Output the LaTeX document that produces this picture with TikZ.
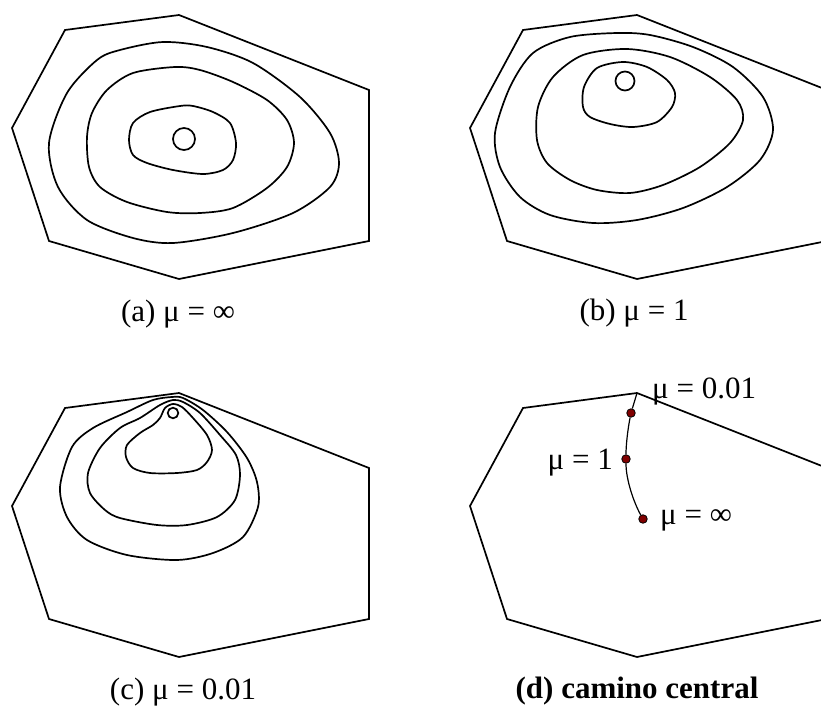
\documentclass[tikz,border=0pt]{standalone}
\usepackage{fontspec}
\setmainfont{Liberation Serif}
\usepackage{xcolor}
\definecolor{pathred}{RGB}{128,0,0}

\begin{document}
\begin{tikzpicture}[x=1pt, y=-1pt,
    edge/.style={line width=1.7pt, line join=miter},
    level/.style={line width=1.7pt},
    lbl/.style={font=\fontsize{31}{36}\selectfont, inner sep=0pt},
    dot/.style={circle, draw, fill=pathred, minimum size=8.5pt, inner sep=0pt, line width=0.8pt}]
    \useasboundingbox (0,0) rectangle (821,706);
    \clip (0,0) rectangle (821,706);

    % Feasible regions
    \foreach \dx/\dy in {0/0, 458/0, 0/378, 458/378}
        \draw[edge, shift={(\dx,\dy)}] (65,30) -- (179,15) -- (369,90) -- (369,241)
            -- (179,279) -- (49,241) -- (12,128) -- cycle;

    % (a) level curves
    \draw[level] plot[smooth cycle] coordinates {(163,42) (120,50) (97,60) (67,93) (49,143)
        (58,187) (87,220) (133,238) (173,243) (233,233) (293,213) (330,187) (339,163)
        (330,133) (300,97) (253,63) (207,47)};
    \draw[level] plot[smooth cycle] coordinates {(175,67) (133,73) (107,90) (92,113) (87,137)
        (89,167) (100,187) (127,202) (167,212) (200,213) (233,208) (267,188) (287,167)
        (294,143) (287,120) (267,100) (233,82) (200,70)};
    \draw[level] plot[smooth cycle] coordinates {(180,106) (150,112) (133,123) (129,140)
        (133,155) (147,163) (173,170) (203,174) (223,170) (233,160) (236,143) (230,123)
        (213,112) (193,106)};
    \draw[level] (184,139) circle (11);

    % (b) level curves
    \draw[level] plot[smooth cycle] coordinates {(617,33) (570,37) (533,53) (510,87) (495,133)
        (500,167) (520,197) (550,215) (593,223) (637,220) (683,208) (727,187) (760,160)
        (773,130) (763,97) (733,67) (693,47) (650,35)};
    \draw[level] plot[smooth cycle] coordinates {(627,49) (583,55) (553,77) (538,107) (537,140)
        (547,163) (570,180) (597,190) (630,193) (663,185) (700,167) (730,143) (743,120)
        (737,100) (710,77) (670,57)};
    \draw[level] plot[smooth cycle] coordinates {(623,62) (597,68) (584,87) (583,107) (590,117)
        (610,124) (633,127) (657,122) (672,107) (675,93) (667,80) (647,67)};
    \draw[level] (625,81) circle (9.5);

    % (c) level curves
    \draw[level] plot[smooth cycle] coordinates {(172,397) (153,400) (127,412) (93,428) (72,447)
        (60,487) (67,517) (87,540) (127,555) (177,560) (213,553) (243,537) (258,507)
        (257,482) (247,458) (227,432) (203,410) (183,398)};
    \draw[level] plot[smooth cycle] coordinates {(173,400) (160,405) (140,418) (120,428) (100,448)
        (88,473) (90,493) (105,510) (120,518) (157,525) (187,525) (217,517) (235,500)
        (240,475) (236,455) (220,435) (200,413) (183,402)};
    \draw[level] plot[smooth cycle] coordinates {(173,404) (165,408) (160,418) (153,425) (140,433)
        (127,445) (126,457) (133,468) (150,473) (177,473) (197,470) (207,462) (212,450)
        (207,435) (193,418) (182,407)};
    \draw[level] (173,413) circle (5.3);

    % (d) central path
    \coordinate (apex) at (637,393);
    \node[dot] (pt1) at (631,413) {};
    \node[dot] (pt2) at (626,459) {};
    \node[dot] (pt3) at (643,519) {};
    \draw[line width=1.2pt] (apex) -- (pt1) .. controls (628,428) and (626,444) .. (pt2)
        .. controls (626,480) and (634,503) .. (pt3);
    \node[lbl, anchor=base west] (mu001) at (652,398) {μ = 0.01};
    \node[lbl, anchor=base east] (mu1) at (613,469) {μ = 1};
    \node[lbl, anchor=base west] (muinf) at (660,524) {μ = ∞};

    % Captions
    \node[lbl, anchor=base] (capa) at (178,321) {(a) μ = ∞};
    \node[lbl, anchor=base] (capb) at (634,320) {(b) μ = 1};
    \node[lbl, anchor=base] (capc) at (183,699) {(c) μ = 0.01};
    \node[lbl, anchor=base] (capd) at (637,698) {\textbf{(d) camino central}};
\end{tikzpicture}
\end{document}
